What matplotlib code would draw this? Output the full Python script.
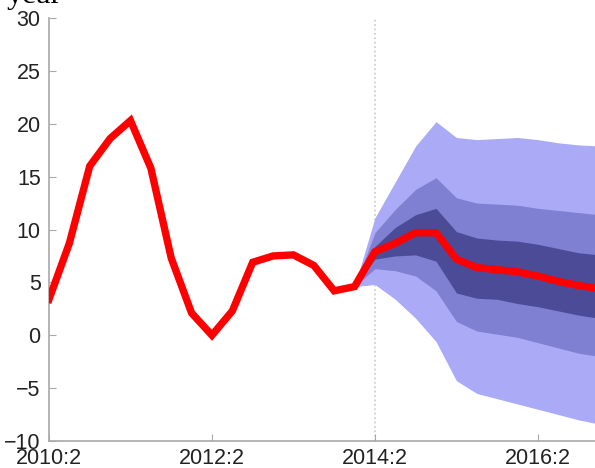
import matplotlib
matplotlib.use("Agg")
import matplotlib.pyplot as plt
import numpy as np

# quarterly growth, history + forecast median (starts 2010:2)
growth = [3.4, 8.7, 16.0, 18.6, 20.3, 15.8, 7.3, 2.1, 0.0, 2.3, 6.9, 7.5, 7.6, 6.6,
          4.2, 4.6, 7.9, 8.7, 9.7, 9.7, 7.2, 6.4, 6.2, 6.0, 5.6, 5.1, 4.7, 4.4]

# forecast bands from 2014:1 onwards
FAN_START = 15
outer_lo = [4.6, 4.8, 3.4, 1.6, -0.6, -4.3, -5.5, -6.0, -6.5, -7.0, -7.5, -8.0, -8.4]
mid_lo = [4.6, 6.3, 6.1, 5.6, 4.2, 1.3, 0.4, 0.1, -0.2, -0.7, -1.2, -1.7, -2.0]
inner_lo = [4.6, 7.2, 7.5, 7.6, 7.0, 4.0, 3.5, 3.4, 3.0, 2.7, 2.3, 1.9, 1.6]
inner_hi = [4.6, 8.4, 10.2, 11.4, 12.0, 9.8, 9.2, 9.0, 8.9, 8.6, 8.2, 7.8, 7.6]
mid_hi = [4.6, 9.7, 11.9, 13.8, 14.9, 13.0, 12.5, 12.4, 12.3, 12.0, 11.8, 11.6, 11.4]
outer_hi = [4.6, 11.1, 14.5, 17.9, 20.2, 18.7, 18.5, 18.6, 18.7, 18.5, 18.2, 18.0, 17.9]

tick_pos = [0, 8, 16, 24]
tick_lab = ["2010:2", "2012:2", "2014:2", "2016:2"]

plt.rcParams['font.family'] = ['Liberation Sans', 'DejaVu Sans']

fig = plt.figure(figsize=(5.95, 4.68), dpi=100)
ax = fig.add_axes([49/595, 27/468, 550/595, 423/468])

x = np.arange(len(growth))
xf = np.arange(FAN_START, FAN_START + len(outer_lo))

ax.axvline(16, color='#c8c8c8', ls=':', lw=1.2, zorder=1)
ax.fill_between(xf, outer_lo, outer_hi, color='#aaaaf6', lw=0, zorder=2)
ax.fill_between(xf, mid_lo, mid_hi, color='#8080d2', lw=0, zorder=3)
ax.fill_between(xf, inner_lo, inner_hi, color='#4b4b98', lw=0, zorder=4)
ax.plot(x, growth, color='#ff0000', lw=5.3, solid_joinstyle='miter', zorder=5)

ax.set_xlim(0, 27)
ax.set_ylim(-10, 30)
ax.set_yticks(range(-10, 31, 5))
ax.set_xticks(tick_pos)
ax.set_xticklabels(tick_lab)

for s in ['top', 'right']:
    ax.spines[s].set_visible(False)
for s in ['left', 'bottom']:
    ax.spines[s].set_color('#a8a8a8')
    ax.spines[s].set_linewidth(1.2)
ax.tick_params(direction='in', length=5, color='#a8a8a8', labelsize=15.5,
               labelcolor='#222222')
ax.tick_params(axis='y', pad=6)
ax.tick_params(axis='x', pad=5)

fig.text(7/595, 1 - 3/468, "year", family='Liberation Serif', fontsize=23,
         va='baseline', ha='left')

fig.savefig("out.png", dpi=100)
